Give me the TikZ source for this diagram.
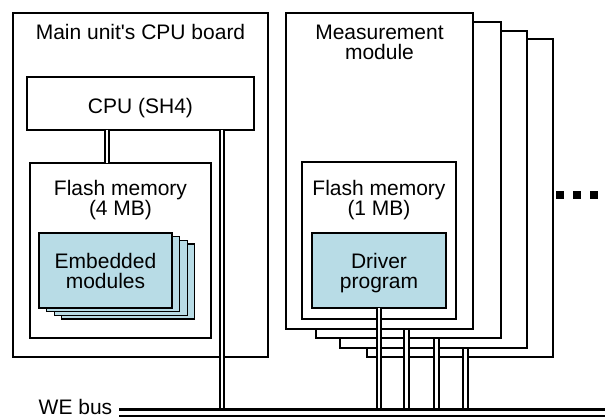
\documentclass[tikz,border=0pt]{standalone}
\usepackage{fontspec}
\setmainfont{Liberation Sans}
\definecolor{lb}{RGB}{184,220,230}
\newcommand\mystrut{\rule{0pt}{16pt}}
\newcommand\straightq{\XeTeXglyph\XeTeXglyphindex "quotesingle"\relax}
\begin{document}
\begin{tikzpicture}[x=1pt,y=-1pt,
  box/.style={draw=black, line width=1.2pt, fill=white, inner sep=0pt, outer sep=0pt, anchor=north west},
  bluebox/.style={box, fill=lb},
  conn/.style={draw=black, line width=1.8pt, double=white, double distance=2.8pt},
  bus/.style={draw=black, line width=2.2pt, double=white, double distance=4pt},
  lbl/.style={font=\fontsize{21}{20.5}\selectfont, inner sep=0pt, align=center, anchor=north},
  dotsq/.style={fill=black, minimum size=8pt, inner sep=0pt}]
\useasboundingbox (0,0) rectangle (605,419);

% bus coordinates
\coordinate (bs) at (119,412.5);
\coordinate (be) at (605,412.5);
\coordinate (b0) at (222,412.5);
\coordinate (b1) at (379,412.5);
\coordinate (b2) at (406.3,412.5);
\coordinate (b3) at (436.3,412.5);
\coordinate (b4) at (465.3,412.5);
\coordinate (cf) at (107,0);

% main unit CPU board
\node[box, minimum width=255pt, minimum height=344pt] (board) at (13,13) {};
\node[box, minimum width=227pt, minimum height=53pt] (cpu) at (27,77) {};
\node[box, minimum width=181pt, minimum height=175pt] (flash4) at (30,163) {};
\node[bluebox, minimum width=133pt, minimum height=75pt] (e3) at (61.8,244.1) {};
\node[bluebox, minimum width=133pt, minimum height=75pt] (e2) at (54.2,240.4) {};
\node[bluebox, minimum width=133pt, minimum height=75pt] (e1) at (46.6,236.7) {};
\node[bluebox, minimum width=133pt, minimum height=75pt] (e0) at (39,233) {};
\draw[conn] (cpu.south -| cf) -- (flash4.north -| cf);
\draw[conn] (cpu.south -| b0) -- (b0);

% measurement modules
\node[box, minimum width=186pt, minimum height=318pt] (m4) at (367,39) {};
\draw[conn] (m4.center -| b4) -- (b4);
\node[box, minimum width=187pt, minimum height=317pt] (m3) at (340,31) {};
\draw[conn] (m3.center -| b3) -- (b3);
\node[box, minimum width=185pt, minimum height=316pt] (m2) at (316,22) {};
\draw[conn] (m2.center -| b2) -- (b2);
\node[box, minimum width=187pt, minimum height=316pt] (m1) at (286,13) {};
\node[box, minimum width=154pt, minimum height=157pt] (flash1) at (302,162) {};
\node[bluebox, minimum width=134pt, minimum height=75pt] (drv) at (312,233) {};
\draw[conn] (drv.south -| b1) -- (b1);

% bus
\draw[bus] (bs) -- (be);

% texts
\node[lbl] (tboard) at (140.5,23) {\mystrut Main unit\straightq s CPU board};
\node[lbl] (tcpu) at (140.5,97.5) {\mystrut CPU (SH4)};
\node[lbl] (tf4) at (120.5,179) {\mystrut Flash memory\\\mystrut(4 MB)};
\node[lbl] (temb) at (105.5,252) {\mystrut Embedded\\\mystrut modules};
\node[lbl] (tmeas) at (379.5,23) {\mystrut Measurement\\\mystrut module};
\node[lbl] (tf1) at (379,179) {\mystrut Flash memory\\\mystrut(1 MB)};
\node[lbl] (tdrv) at (379,252) {\mystrut Driver\\\mystrut program};
\node[lbl] (twe) at (75.5,398) {\mystrut WE bus};

% continuation dots
\node[dotsq] (d1) at (560.3,195.5) {};
\node[dotsq] (d2) at (577.3,195.5) {};
\node[dotsq] (d3) at (594.3,195.5) {};
\end{tikzpicture}
\end{document}
